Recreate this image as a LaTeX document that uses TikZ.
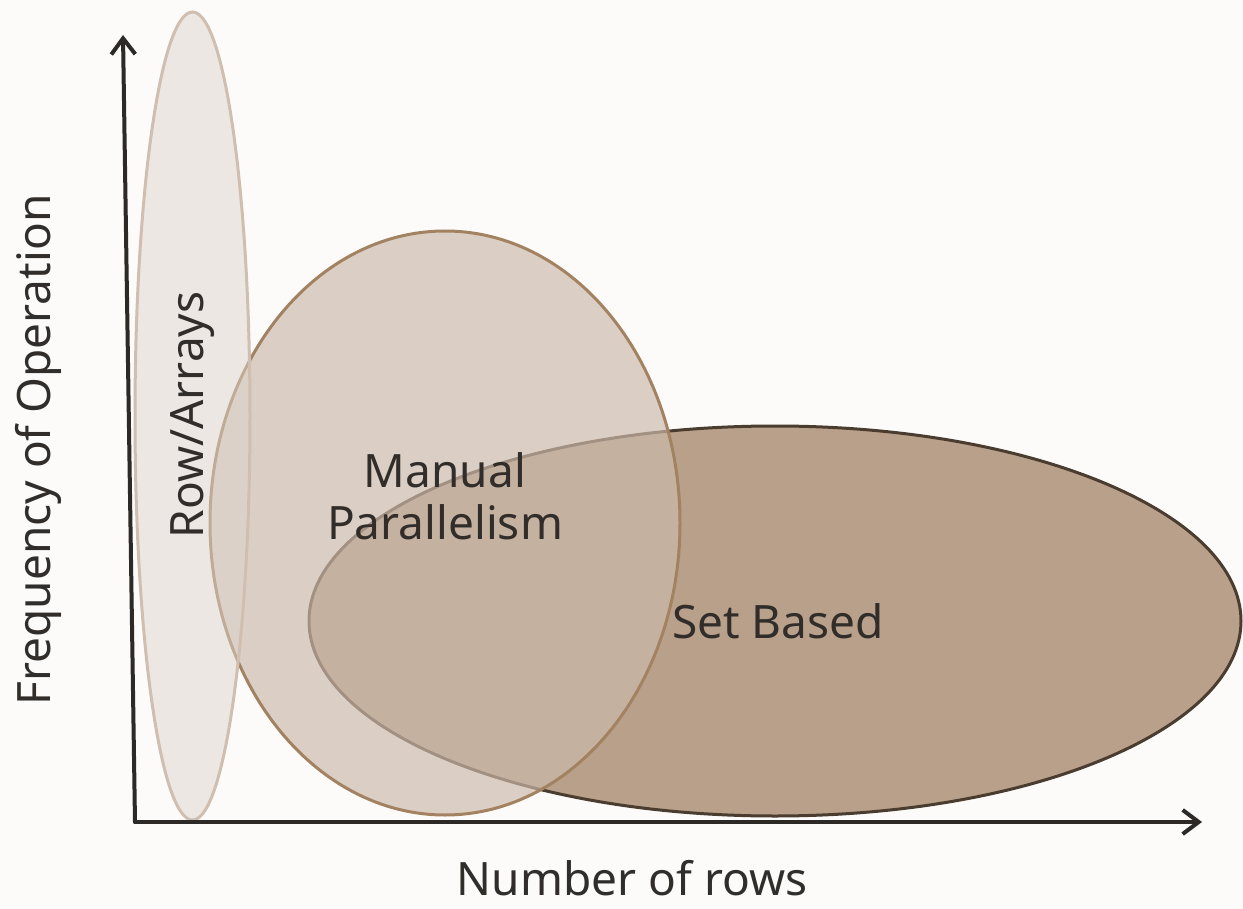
\documentclass[tikz,border=0pt]{standalone}
\usepackage{fontspec}
\setmainfont{Noto Sans}
\usetikzlibrary{arrows.meta}
\definecolor{vennbg}{RGB}{252,251,250}
\definecolor{venntext}{RGB}{49,45,42}
\definecolor{vennaxis}{RGB}{44,41,38}
\definecolor{venncolor0001}{RGB}{222,213,206}
\definecolor{venncolor0002}{RGB}{208,191,176}
\definecolor{venncolor0003}{RGB}{204,186,171}
\definecolor{venncolor0004}{RGB}{163,130,97}
\definecolor{venncolor0005}{RGB}{184,160,138}
\definecolor{venncolor0006}{RGB}{74,60,46}
\begin{document}
\begin{tikzpicture}[yscale=-1
,vstyle0/.style={fill=venncolor0005,draw=venncolor0006,line width=1.5pt}
,vstyle1/.style={fill=venncolor0003,fill opacity=0.68,draw=venncolor0004,line width=1.5pt}
,vstyle2/.style={fill=venncolor0001,fill opacity=0.5,draw=venncolor0002,line width=1.5pt}
,axis/.style={color=vennaxis,line width=2pt,line cap=round,-{Straight Barb[length=8pt,width=12pt,line width=2pt]}}
,lbl/.style={color=venntext,inner sep=0,font=\fontsize{23}{26}\selectfont}
]
\fill[vennbg] (0pt,0pt) rectangle (621.5pt,454.5pt);
\useasboundingbox (0pt,0pt) rectangle (621.5pt,454.5pt);
% sets
\draw[vstyle0] (387.5pt,310.5pt) ellipse (233pt and 97.5pt);
\draw[vstyle1] (222.5pt,261.5pt) ellipse (117.5pt and 146pt);
\draw[vstyle2] (96.25pt,208pt) ellipse (28.75pt and 202pt);
% axes
\coordinate (origin) at (67.5pt,411pt);
\coordinate (ytop) at (61.5pt,17.5pt);
\coordinate (xend) at (601pt,411pt);
\draw[axis] (origin) -- (ytop);
\draw[axis] (origin) -- (xend);
% labels
\node[lbl,rotate=90] (rowlbl) at (96.5pt,207.5pt) {Row/Arrays};
\node[lbl,align=center] (manlbl) at (222.5pt,248pt) {Manual\\Parallelism};
\node[lbl] (setlbl) at (389pt,310.5pt) {Set Based};
\node[lbl,rotate=90] (ylbl) at (19pt,225pt) {Frequency of Operation};
\node[lbl] (xlbl) at (316pt,439pt) {Number of rows};
\end{tikzpicture}
\end{document}
